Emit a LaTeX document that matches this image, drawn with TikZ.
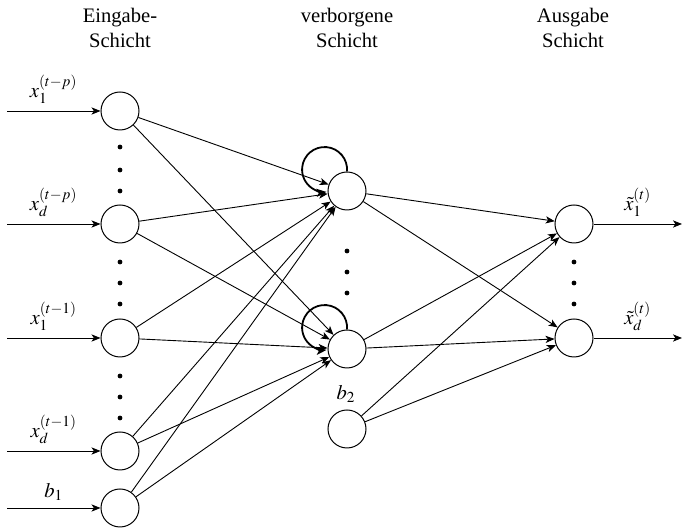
\documentclass[tikz,border=0pt]{standalone}
\usepackage{mathptmx}
\usepackage[no-math]{fontspec}
\setmainfont{Liberation Serif}
\usetikzlibrary{arrows.meta}
\begin{document}
\begin{tikzpicture}[x=0.5pt,y=-0.5pt,
  every node/.style={font=\fontsize{10.3}{12.5}\selectfont},
  neuron/.style={circle,draw,line width=0.5pt,minimum size=19pt,inner sep=0pt},
  conn/.style={line width=0.45pt,-{Stealth[length=4.5pt,width=3.6pt,inset=1.2pt]}},
  recur/.style={line width=0.9pt,-{Stealth[length=5pt,width=4pt,inset=1.2pt]}},
  dotmark/.style={circle,fill,inner sep=0pt,minimum size=2.4pt},
  heading/.style={align=center}]
\useasboundingbox (0,0) rectangle (682,528);

% layer headings
\node[heading] (hin)  at (120,28) {Eingabe-\\Schicht};
\node[heading] (hhid) at (347,28) {verborgene\\Schicht};
\node[heading] (hout) at (573,28) {Ausgabe\\Schicht};

% input layer
\node[neuron] (i1) at (120,111) {};
\node[neuron] (i2) at (120,224) {};
\node[neuron] (i3) at (120,338) {};
\node[neuron] (i4) at (120,451) {};
\node[neuron] (b1) at (120,508) {};

% hidden layer
\node[neuron] (h1) at (347,191) {};
\node[neuron] (h2) at (347,349) {};
\node[neuron] (b2) at (347,429) {};
\node (b2lab) at (346,394) {$b_2$};

% output layer
\node[neuron] (o1) at (574,224) {};
\node[neuron] (o2) at (574,338) {};

% ellipsis dots
\foreach \y [count=\k] in {147,170,191} \node[dotmark] (da\k) at (120,\y) {};
\foreach \y [count=\k] in {262,283,304} \node[dotmark] (db\k) at (120,\y) {};
\foreach \y [count=\k] in {376,397,418} \node[dotmark] (dc\k) at (120,\y) {};
\foreach \y [count=\k] in {251,272,293} \node[dotmark] (dh\k) at (347,\y) {};
\foreach \y [count=\k] in {262,283,304} \node[dotmark] (do\k) at (574,\y) {};

% free ends of the input and output lines
\coordinate (s1) at (7,111);
\coordinate (s2) at (7,224);
\coordinate (s3) at (7,338);
\coordinate (s4) at (7,451);
\coordinate (s5) at (7,508);
\coordinate (e1) at (682,224);
\coordinate (e2) at (682,338);

% inputs
\draw[conn] (s1) -- node[above] (l1) {$x_1^{(t-p)}$} (i1);
\draw[conn] (s2) -- node[above] (l2) {$x_d^{(t-p)}$} (i2);
\draw[conn] (s3) -- node[above] (l3) {$x_1^{(t-1)}$} (i3);
\draw[conn] (s4) -- node[above] (l4) {$x_d^{(t-1)}$} (i4);
\draw[conn] (s5) -- node[above] (l5) {$b_1$} (b1);

% input -> hidden
\foreach \s in {i1,i2,i3,i4,b1}
  \foreach \t in {h1,h2}
    \draw[conn] (\s) -- (\t);

% hidden -> output
\foreach \s in {h1,h2,b2}
  \foreach \t in {o1,o2}
    \draw[conn] (\s) -- (\t);

% recurrent self-connections
\draw[recur] (h1.north) arc[start angle=5,end angle=-275,radius=22.5];
\draw[recur] (h2.north) arc[start angle=5,end angle=-275,radius=22.5];

% outputs
\draw[conn] (o1) -- node[above] (m1) {$\tilde{x}_1^{(t)}$} (e1);
\draw[conn] (o2) -- node[above] (m2) {$\tilde{x}_d^{(t)}$} (e2);
\end{tikzpicture}
\end{document}
